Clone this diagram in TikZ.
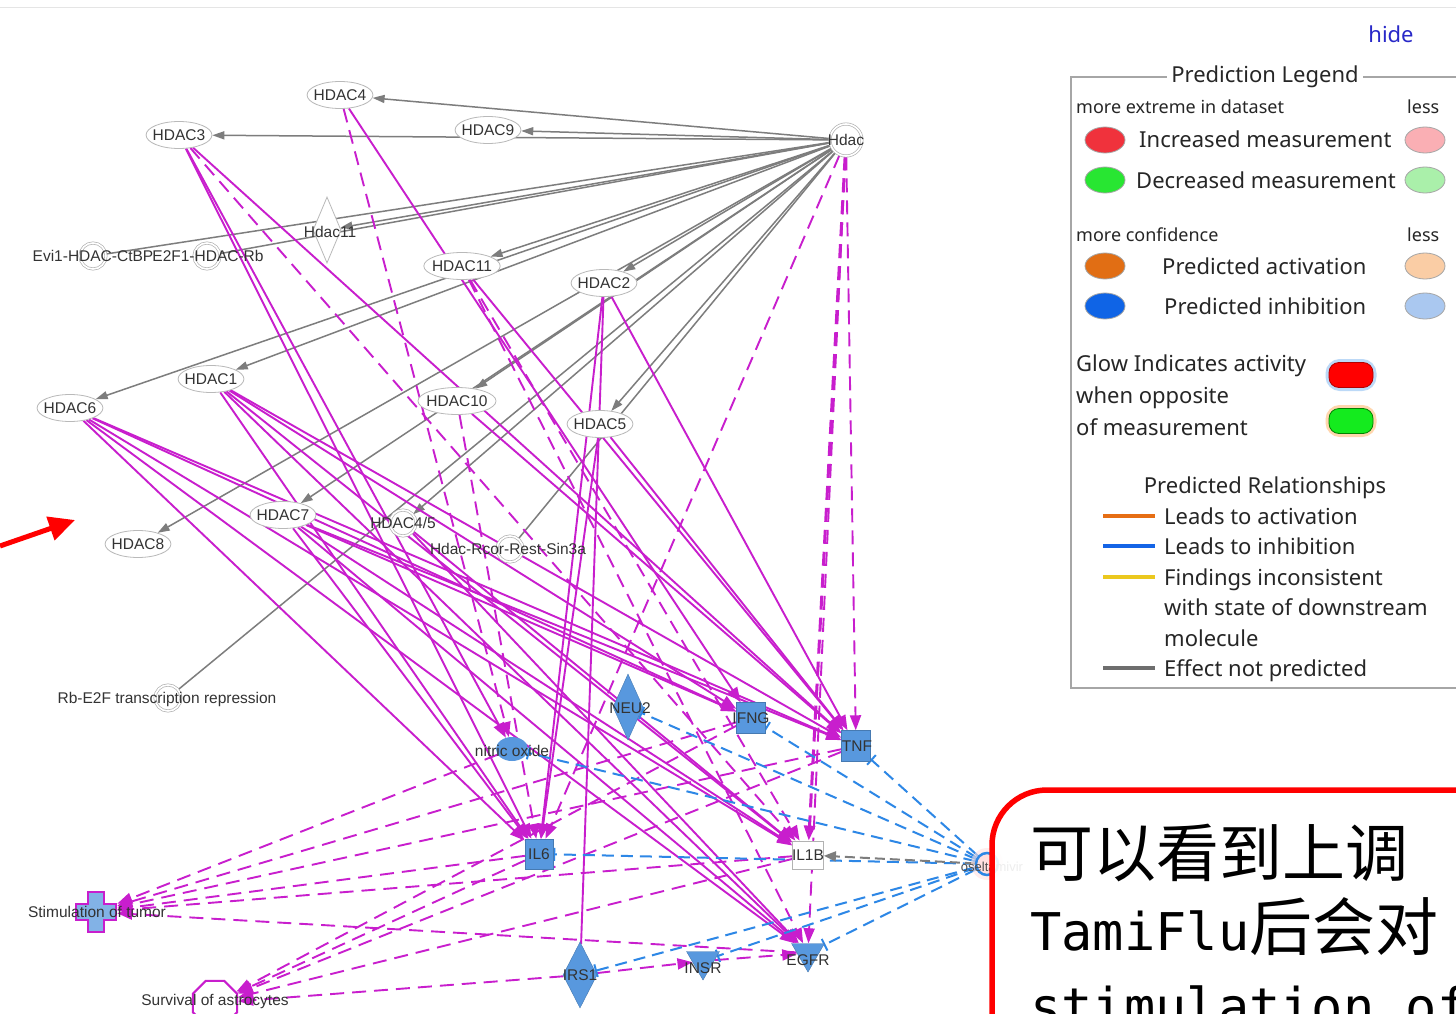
\documentclass[tikz,border=0pt]{standalone}
\usepackage{fontspec}
\setmainfont{Liberation Sans}
\newfontfamily\lgfont{Noto Sans}
\newfontfamily\cjkfont{Noto Sans CJK SC}
\newfontfamily\hwmono{DejaVu Sans Mono}
\usetikzlibrary{arrows.meta,shapes.geometric}
\pgfdeclarelayer{edges}
\pgfdeclarelayer{front}
\pgfsetlayers{edges,main,front}
\definecolor{mag}{RGB}{200,30,205}
\definecolor{bnode}{RGB}{88,152,222}
\definecolor{inhib}{RGB}{45,135,230}
\definecolor{egrey}{RGB}{125,125,125}
\definecolor{hidecol}{RGB}{40,40,200}
\definecolor{incr}{RGB}{240,50,60}
\definecolor{incrl}{RGB}{250,175,180}
\definecolor{decr}{RGB}{40,230,50}
\definecolor{decrl}{RGB}{170,240,170}
\definecolor{pact}{RGB}{225,110,20}
\definecolor{pactl}{RGB}{250,205,165}
\definecolor{pinh}{RGB}{15,100,230}
\definecolor{pinhl}{RGB}{170,200,240}
\definecolor{relact}{RGB}{230,110,20}
\definecolor{relinh}{RGB}{20,100,230}
\definecolor{relinc}{RGB}{235,200,30}
\definecolor{relnone}{RGB}{110,110,110}
\definecolor{glowgreen}{RGB}{20,235,30}
\newcommand\labfont{\fontsize{15.5}{16}\selectfont}
\newcommand\lgbig{\lgfont\fontsize{22}{24}\selectfont}
\newcommand\lgsmall{\lgfont\fontsize{18}{20}\selectfont}
\tikzset{
  hd/.style={ellipse, draw=gray!55, fill=white, line width=0.8pt, minimum width=64pt,
    minimum height=27pt, inner xsep=-3pt, inner ysep=0pt, font=\labfont, text=black!80},
  dc/.style={circle, draw=gray!60, line width=0.7pt, double=white, double distance=1.6pt,
    fill=white, minimum size=26pt, inner sep=0pt},
  lab/.style={inner sep=0pt, font=\labfont, text=black!80},
  bsq/.style={rectangle, fill=bnode, draw=bnode!80!black, line width=0.4pt,
    minimum width=29pt, minimum height=31pt, inner sep=0pt},
  bdia/.style={diamond, fill=bnode, draw=bnode!80!black, line width=0.4pt,
    minimum width=32pt, minimum height=66pt, inner sep=0pt},
  btri/.style={regular polygon, regular polygon sides=3, shape border rotate=180,
    fill=bnode, draw=bnode!80!black, line width=0.4pt, minimum size=38pt, inner sep=0pt},
  ge/.style={draw=egrey, line width=1.5pt, -{Triangle[length=12pt,width=8pt]}},
  gl/.style={draw=egrey, line width=1.5pt},
  ma/.style={draw=mag, line width=1.9pt, -{Triangle[length=15pt,width=11pt]}},
  ml/.style={draw=mag, line width=1.9pt},
  md/.style={ma, dash pattern=on 14pt off 8pt},
  bi/.style={draw=inhib, line width=2pt, dash pattern=on 12pt off 7pt,
    -{Bar[width=13pt,line width=2pt]}},
  gd/.style={draw=egrey, line width=2pt, dash pattern=on 10pt off 5pt,
    -{Triangle[length=12pt,width=10pt]}},
  lgdot/.style={ellipse, draw=gray!70, line width=0.8pt, minimum width=40pt, minimum height=26pt, inner sep=0pt},
  lgtxt/.style={anchor=base west, inner sep=0pt, text=black!85},
  lgline/.style={line width=3.5pt},
}
\begin{document}
\begin{tikzpicture}[x=1pt,y=-1pt]
\useasboundingbox (0,0) rectangle (1456,1014);

% ---------- HDAC family and complexes ----------
\node[hd] (h4) at (340,95) {HDAC4};
\node[hd] (h3) at (179,135) {HDAC3};
\node[hd] (h9) at (488,130) {HDAC9};
\node[dc, minimum size=32pt] (hdac) at (846,140) {};
\node[lab] at (846,140) {Hdac};
\node[diamond, draw=gray!55, fill=white, line width=0.8pt, minimum width=28pt, minimum height=66pt, inner sep=0pt] (hd11) at (327,230) {};
\node[lab] at (330,232) {Hdac11};
\node[dc] (evi) at (93,256) {};
\node[dc] (e2f) at (207,256) {};
\node[lab] at (93,256) {Evi1-HDAC-CtBP};
\node[lab] at (208,256) {E2F1-HDAC-Rb};
\node[hd] (h11) at (462,266) {HDAC11};
\node[hd] (h2) at (604,283) {HDAC2};
\node[hd] (h1) at (211,379) {HDAC1};
\node[hd] (h6) at (70,408) {HDAC6};
\node[hd] (h10) at (457,401) {HDAC10};
\node[hd] (h5) at (600,424) {HDAC5};
\node[hd] (h7) at (283,515) {HDAC7};
\node[hd] (h8) at (138,544) {HDAC8};
\node[dc] (hd45) at (403,523) {};
\node[lab] at (403,523) {HDAC4/5};
\node[dc] (ncor) at (510,549) {};
\node[lab] at (508,549) {Hdac-Rcor-Rest-Sin3a};
\node[dc] (rb) at (168,698) {};
\node[lab] at (167,699) {Rb-E2F transcription repression};

% ---------- downstream molecules ----------
\node[bdia, minimum width=30pt] (neu2) at (628,707) {};
\node[lab] at (630,708) {NEU2};
\node[bsq] (ifng) at (751,718) {};
\node[lab] at (751,718) {IFNG};
\node[bsq] (tnf) at (856,746) {};
\node[lab] at (857,746) {TNF};
\node[ellipse, fill=bnode, minimum width=32pt, minimum height=24pt, inner sep=0pt] (no) at (512,749) {};
\node[lab] at (512,751) {nitric oxide};
\node[bsq, minimum width=28pt, minimum height=30pt] (il6) at (539,854) {};
\node[lab] at (539,854) {IL6};
\node[rectangle, draw=gray!60, fill=white, line width=0.8pt, minimum width=31pt, minimum height=28pt, inner sep=0pt] (il1b) at (808,855) {};
\node[lab] at (808,855) {IL1B};
\node[bdia, minimum width=34pt, minimum height=66pt] (irs1) at (580,975) {};
\node[lab] at (580,975) {IRS1};
\node[btri] (insr) at (703,961) {};
\node[lab] at (703,968) {INSR};
\node[btri] (egfr) at (808,953) {};
\node[lab] at (808,960) {EGFR};

% drug node
\fill[pink!45, opacity=0.6] (987,864) circle (16pt);
\node[circle, draw=inhib, line width=2.5pt, fill=pink!50, minimum size=22pt, inner sep=0pt] (osel) at (987,864) {};
\node[lab, font=\fontsize{13}{13}\selectfont, text=black!70] at (992,867) {oseltamivir};

% functions
\node[minimum size=42pt, inner sep=0pt] (stim) at (96,912) {};
\filldraw[fill=bnode!75, draw=mag, line width=2pt, shift={(96,912)}]
  (-8,-20) -- (8,-20) -- (8,-8) -- (20,-8) -- (20,8) -- (8,8) -- (8,20) -- (-8,20)
  -- (-8,8) -- (-20,8) -- (-20,-8) -- (-8,-8) -- cycle;
\node[lab] at (97,912) {Stimulation of tumor};
\node[regular polygon, regular polygon sides=8, draw=mag, line width=2pt, minimum size=48pt, inner sep=0pt] (surv) at (215,1003) {};
\node[lab] at (215,1001) {Survival of astrocytes};

% marker arrow
\coordinate (ra) at (0,546);
\coordinate (rb2) at (75,520);
\draw[red, line width=5pt, -{Triangle[length=26pt,width=24pt]}] (ra) -- (rb2);

% ---------- connectors ----------
\begin{pgfonlayer}{edges}
\fill[white] (0,0) rectangle (1456,1014);
\draw[gray!20, line width=1pt] (0,8) -- (1456,8);
\foreach \dst in {h4,h9,h3,hd11,h11,h2,h1,h6,h10,h5,h7,h8,hd45}
  \draw[ge] (hdac) -- (\dst);
\foreach \dst in {evi,e2f,ncor,rb}
  \draw[gl] (hdac) -- (\dst);
\foreach \src/\dst in {h3/il6, h3/no, h3/tnf, h4/ifng, h11/tnf, h2/il6, h2/tnf,
    h5/il6, h5/tnf, h10/tnf, h1/tnf, h1/ifng, h1/il6, h1/egfr, h1/il1b,
    h6/ifng, h6/tnf, h6/il6, h6/il1b, h6/egfr, h7/il6, h7/il1b, h7/egfr,
    h7/tnf, h7/ifng, hd45/il1b, hd45/egfr}
  \draw[ma] (\src) -- (\dst);
\draw[ml] (h2) -- (irs1);
\foreach \src/\dst in {h3/il1b, h4/no, h11/il1b, h11/egfr, h10/il6, hdac/il6,
    hdac/tnf, hdac/egfr, ifng/stim, tnf/stim, il6/stim, il1b/stim, no/stim,
    egfr/stim, il6/surv, tnf/surv, il1b/surv, irs1/surv, ifng/surv,
    irs1/insr, insr/egfr}
  \draw[md] (\src) -- (\dst);
\draw[md, line width=3pt] (hdac) -- (il1b);
\foreach \dst in {neu2, ifng, tnf, il6, no, egfr, irs1, insr}
  \draw[bi] (osel) -- (\dst);
\draw[gd] (osel) -- (il1b);
\end{pgfonlayer}

% ---------- legend ----------
\node[font=\lgbig, text=hidecol, inner sep=0pt, anchor=base] at (1391,43) {hide};
\draw[gray!70, line width=1.2pt] (1071,77) rectangle (1480,688);
\node[fill=white, inner xsep=4pt, inner ysep=2pt, font=\lgbig, text=black!85] at (1265,77) {Prediction Legend};
\node[lgtxt, font=\lgsmall] at (1076,114) {more extreme in dataset};
\node[lgtxt, font=\lgsmall] at (1407,114) {less};
\node[lgdot, fill=incr] at (1105,140) {};
\node[lgtxt, font=\lgbig] at (1139,148) {Increased measurement};
\node[lgdot, fill=incrl] at (1425,140) {};
\node[lgdot, fill=decr] at (1105,180) {};
\node[lgtxt, font=\lgbig] at (1136,188) {Decreased measurement};
\node[lgdot, fill=decrl] at (1425,180) {};
\node[lgtxt, font=\lgsmall] at (1076,241) {more confidence};
\node[lgtxt, font=\lgsmall] at (1407,241) {less};
\node[lgdot, fill=pact] at (1105,266) {};
\node[lgtxt, font=\lgbig] at (1162,274) {Predicted activation};
\node[lgdot, fill=pactl] at (1425,266) {};
\node[lgdot, fill=pinh] at (1105,306) {};
\node[lgtxt, font=\lgbig] at (1164,314) {Predicted inhibition};
\node[lgdot, fill=pinhl] at (1425,306) {};
\node[lgtxt, font=\lgbig] at (1076,371) {Glow Indicates activity};
\node[lgtxt, font=\lgbig] at (1076,403) {when opposite};
\node[lgtxt, font=\lgbig] at (1076,435) {of measurement};
\node[draw=inhib!45, line width=7pt, rounded corners=11pt, minimum width=44pt, minimum height=25pt, opacity=0.7] at (1351,375) {};
\node[draw=red!70!black, fill=red, line width=0.8pt, rounded corners=10pt, minimum width=44pt, minimum height=25pt] at (1351,375) {};
\node[draw=orange!45, line width=7pt, rounded corners=11pt, minimum width=44pt, minimum height=25pt, opacity=0.7] at (1351,421) {};
\node[draw=green!50!black, fill=glowgreen, line width=0.8pt, rounded corners=10pt, minimum width=44pt, minimum height=25pt] at (1351,421) {};
\node[font=\lgbig, text=black!85, inner sep=0pt, anchor=base] at (1265,493) {Predicted Relationships};
\coordinate (la1) at (1103,516); \coordinate (la2) at (1155,516);
\coordinate (lb1) at (1103,546); \coordinate (lb2) at (1155,546);
\coordinate (lc1) at (1103,577); \coordinate (lc2) at (1155,577);
\coordinate (ld1) at (1103,668); \coordinate (ld2) at (1155,668);
\draw[lgline, relact] (la1) -- (la2);
\draw[lgline, relinh] (lb1) -- (lb2);
\draw[lgline, relinc] (lc1) -- (lc2);
\draw[lgline, relnone] (ld1) -- (ld2);
\node[lgtxt, font=\lgbig] at (1164,524) {Leads to activation};
\node[lgtxt, font=\lgbig] at (1164,554) {Leads to inhibition};
\node[lgtxt, font=\lgbig] at (1164,585) {Findings inconsistent};
\node[lgtxt, font=\lgbig] at (1164,615) {with state of downstream};
\node[lgtxt, font=\lgbig] at (1164,646) {molecule};
\node[lgtxt, font=\lgbig] at (1164,676) {Effect not predicted};

% ---------- note box ----------
\begin{pgfonlayer}{front}
\draw[draw=red, line width=5.5pt, fill=white, fill opacity=0.9, rounded corners=55pt] (992,790) rectangle (1540,1120);
\node[anchor=base west, inner sep=0pt, font=\cjkfont\fontsize{63}{63}\selectfont] at (1030,876) {可以看到上调};
\node[anchor=base west, inner sep=0pt] at (1030,950) {\hwmono\fontsize{52}{52}\selectfont TamiFlu\cjkfont\fontsize{63}{63}\selectfont 后会对};
\node[anchor=base west, inner sep=0pt, font=\hwmono\fontsize{52}{52}\selectfont] at (1030,1025) {stimulation of};
\end{pgfonlayer}
\end{tikzpicture}
\end{document}
